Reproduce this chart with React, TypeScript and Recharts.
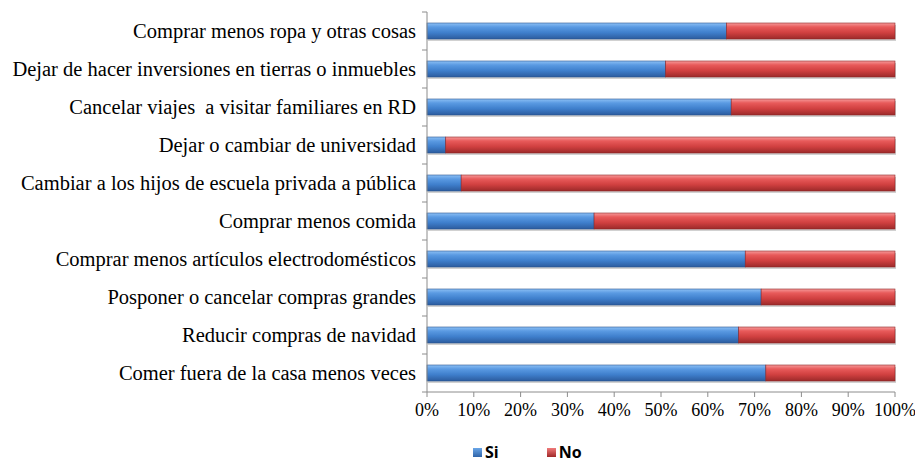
import React from "react";
import { BarChart, Bar, XAxis, YAxis, Legend } from "recharts";

const categories = [
  "Comprar menos ropa y otras cosas",
  "Dejar de hacer inversiones en tierras o inmuebles",
  "Cancelar viajes  a visitar familiares en RD",
  "Dejar o cambiar de universidad",
  "Cambiar a los hijos de escuela privada a pública",
  "Comprar menos comida",
  "Comprar menos artículos electrodomésticos",
  "Posponer o cancelar compras grandes",
  "Reducir compras de navidad",
  "Comer fuera de la casa menos veces",
];

const siValues = [64, 51, 65, 4, 7.3, 35.7, 68, 71.4, 66.6, 72.4];
const noValues = [36, 49, 35, 96, 92.7, 64.3, 32, 28.6, 33.4, 27.6];

const xTicks = [0, 10, 20, 30, 40, 50, 60, 70, 80, 90, 100];

const data = categories.map((name, i) => ({ name, si: siValues[i], no: noValues[i] }));

const serif = "'Liberation Serif', 'DejaVu Serif', serif";
const axisGray = "#8c8c8c";

const makeShape = (grad: string, edge: string) => (props: any) => {
  const { x, y, width, height } = props;
  if (!width || width <= 0) return <g />;
  return (
    <g>
      <rect x={x + 1} y={y + 2} width={width} height={height} fill="#000" opacity={0.18} />
      <rect x={x} y={y} width={width} height={height} fill={`url(#${grad})`} />
      <rect x={x} y={y} width={width} height={height} fill="none" stroke={edge} strokeWidth={0.6} />
    </g>
  );
};

// category label plus Excel-style tick marks between categories
const CategoryTick = (props: any) => {
  const { x, y, payload, index, visibleTicksCount } = props;
  const half = payload.offset || 0;
  const label = String(payload.value).replace(/  /g, " \u00a0");
  return (
    <g>
      <line x1={x - 5} x2={x} y1={y - half} y2={y - half} stroke={axisGray} />
      {index === visibleTicksCount - 1 && (
        <line x1={x - 5} x2={x} y1={y + half} y2={y + half} stroke={axisGray} />
      )}
      <text x={x - 11} y={y} dy="0.35em" textAnchor="end" fontFamily={serif} fontSize={20.5} fill="#000">
        {label}
      </text>
    </g>
  );
};

const renderLegend = () => (
  <div style={{ display: "flex", fontFamily: "'Open Sans', sans-serif", fontWeight: 700, fontSize: 16, lineHeight: "14px", color: "#000" }}>
    <div style={{ display: "flex", alignItems: "center", marginRight: 48 }}>
      <span style={{ width: 9, height: 9, background: "linear-gradient(#6aa6e8, #2f64a8)", marginRight: 3, display: "inline-block" }} />
      Si
    </div>
    <div style={{ display: "flex", alignItems: "center" }}>
      <span style={{ width: 9, height: 9, background: "linear-gradient(#f07a7a, #a02828)", marginRight: 3, display: "inline-block" }} />
      No
    </div>
  </div>
);

export default function App() {
  return (
    <BarChart
      width={915}
      height={454}
      data={data}
      layout="vertical"
      margin={{ top: 4, right: 28, bottom: 40, left: 0 }}
    >
      <defs>
        <linearGradient id="gBlue" x1="0" y1="0" x2="0" y2="1">
          <stop offset="0%" stopColor="#8cc0f4" />
          <stop offset="25%" stopColor="#5a9ae2" />
          <stop offset="60%" stopColor="#3f7fcc" />
          <stop offset="100%" stopColor="#2c5c9e" />
        </linearGradient>
        <linearGradient id="gRed" x1="0" y1="0" x2="0" y2="1">
          <stop offset="0%" stopColor="#f69a9a" />
          <stop offset="25%" stopColor="#e85a5a" />
          <stop offset="60%" stopColor="#d04040" />
          <stop offset="100%" stopColor="#9c2a2a" />
        </linearGradient>
      </defs>
      <XAxis
        type="number"
        domain={[0, 100]}
        ticks={xTicks}
        tickFormatter={(v: number) => `${v}%`}
        axisLine={{ stroke: axisGray }}
        tickLine={{ stroke: axisGray }}
        tickSize={5}
        tickMargin={6}
        height={30}
        interval={0}
        tick={{ fill: "#000", fontFamily: serif, fontSize: 18 }}
      />
      <YAxis
        type="category"
        dataKey="name"
        width={419}
        axisLine={{ stroke: axisGray }}
        tickLine={false}
        tickSize={0}
        tickMargin={0}
        interval={0}
        tick={<CategoryTick />}
      />
      <Legend verticalAlign="middle" content={renderLegend} wrapperStyle={{ top: 437, left: 465, width: 200, height: 14 }} />
      <Bar dataKey="si" name="Si" stackId="a" barSize={16} isAnimationActive={false} shape={makeShape("gBlue", "#2a5590")} />
      <Bar dataKey="no" name="No" stackId="a" barSize={16} isAnimationActive={false} shape={makeShape("gRed", "#8e2626")} />
    </BarChart>
  );
}
